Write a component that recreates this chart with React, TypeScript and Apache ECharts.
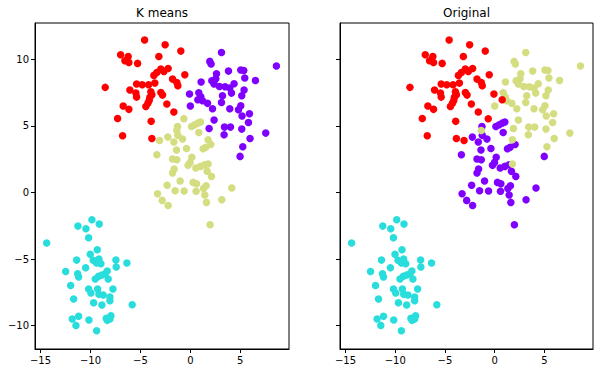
import React, { useEffect, useRef } from "react";
import * as echarts from "echarts";

// K-means cluster assignments
const kmRed: [number, number][] = [
  [-4.58, 11.43], [-2.52, 11.08], [-0.95, 10.6], [-6.98, 10.33], [-6.22, 10.2],
  [-6.55, 9.88], [-6.15, 9.75], [-5.28, 9.68], [-3.15, 10.2], [-2.95, 9.25],
  [-3.35, 9.0], [-3.65, 8.78], [-2.22, 9.3], [-2.65, 9.08], [-0.55, 8.83],
  [-1.78, 8.5], [-1.35, 8.25], [-1.25, 8.0], [-8.52, 7.88], [-5.38, 8.13],
  [-4.82, 8.08], [-4.18, 8.08], [-3.55, 8.2], [-6.05, 7.68], [-5.45, 7.45],
  [-5.38, 7.15], [-3.95, 7.55], [-3.85, 7.33], [-4.05, 7.13], [-4.12, 6.9],
  [-4.25, 6.68], [-4.45, 6.45], [-2.95, 7.5], [-2.78, 7.3], [-2.35, 6.63],
  [-6.72, 6.48], [-6.15, 6.23], [-1.65, 6.03], [-7.28, 5.55], [-3.92, 5.33],
  [-6.78, 4.25], [-3.85, 4.05],
];
const kmPurple: [number, number][] = [
  [3.12, 10.5], [8.62, 9.48], [1.95, 9.83], [2.08, 9.63], [5.05, 9.18],
  [5.35, 9.15], [1.08, 8.28], [2.15, 8.38], [2.62, 8.9], [2.55, 8.53],
  [3.82, 9.1], [5.45, 8.58], [6.52, 8.4], [2.38, 8.13], [2.92, 7.95],
  [3.48, 7.93], [3.95, 7.83], [4.38, 8.15], [4.12, 7.45], [5.38, 7.68],
  [5.15, 7.25], [3.22, 7.25], [-0.08, 7.38], [0.85, 7.48], [1.05, 7.18],
  [1.22, 6.88], [0.75, 6.95], [1.72, 6.68], [3.12, 6.75], [0.0, 6.48],
  [2.22, 6.28], [3.95, 6.28], [5.05, 6.5], [4.82, 6.2], [5.92, 5.9],
  [5.18, 5.73], [2.38, 5.43], [5.82, 5.25], [1.88, 4.8], [3.42, 4.9],
  [4.02, 4.9], [3.38, 4.33], [5.15, 4.75], [7.55, 4.45], [5.98, 4.05],
  [5.25, 3.43], [4.98, 2.7],
];
const kmYellow: [number, number][] = [
  [-0.65, 5.53], [-1.28, 4.95], [-1.35, 4.65], [0.12, 4.95], [0.45, 5.08],
  [0.78, 5.2], [1.02, 5.28], [0.85, 4.5], [-3.08, 3.9], [-2.25, 4.15],
  [-1.65, 3.78], [-1.25, 4.28], [-0.78, 4.0], [1.78, 3.95], [2.05, 3.6],
  [-3.35, 2.83], [-1.38, 3.18], [-0.38, 3.3], [1.28, 3.28], [1.55, 3.38],
  [-1.78, 2.5], [-1.35, 2.45], [0.15, 2.63], [-0.02, 2.25], [-0.22, 2.03],
  [-1.62, 1.75], [-1.78, 1.45], [0.55, 1.83], [1.02, 1.95], [1.45, 2.08],
  [1.78, 2.13], [1.68, 1.58], [2.12, 1.2], [-2.32, 0.53], [-1.02, 0.85],
  [-1.52, 0.13], [-0.62, 0.1], [0.28, 0.75], [0.62, 0.65], [1.32, 0.3],
  [1.58, 0.5], [0.58, 0.08], [1.45, -0.2], [1.62, -0.75], [-3.28, -0.1],
  [-2.82, -0.6], [-2.22, -0.98], [3.15, -0.55], [1.98, -2.43], [4.15, 0.33],
];
const kmCyan: [number, number][] = [
  [-9.85, -2.05], [-9.12, -2.38], [-11.25, -2.53], [-10.45, -2.73], [-10.18, -3.4],
  [-14.38, -3.8], [-9.32, -4.3], [-10.02, -4.65], [-7.45, -5.08], [-11.38, -5.08],
  [-9.72, -5.1], [-9.15, -5.0], [-9.38, -5.3], [-8.95, -5.35], [-6.35, -5.3],
  [-7.42, -5.6], [-10.48, -5.65], [-12.48, -5.93], [-11.28, -6.1], [-11.18, -6.35],
  [-8.32, -5.9], [-8.52, -6.1], [-8.85, -6.2], [-9.18, -6.3], [-9.52, -6.5],
  [-8.22, -6.5], [-11.98, -6.98], [-10.18, -7.25], [-9.28, -7.25], [-9.95, -7.55],
  [-9.15, -7.65], [-8.72, -7.7], [-7.75, -7.25], [-8.05, -7.85], [-8.05, -8.13],
  [-11.68, -8.0], [-9.68, -8.28], [-8.85, -8.45], [-5.82, -8.43], [-11.82, -9.5],
  [-11.18, -9.3], [-10.15, -9.58], [-11.45, -9.98], [-8.42, -9.45], [-8.05, -9.5],
  [-7.95, -9.25], [-8.32, -9.6], [-9.38, -10.38],
];

// Points whose original label differs from the simple purple/yellow swap
const origMovedToRed: [number, number][] = [[-0.08, 7.38], [0.75, 6.95], [-3.08, 3.9], [-0.65, 5.53]];
const origStayPurple: [number, number][] = [[4.98, 2.7]];
const origStayYellow: [number, number][] = [[1.78, 3.95], [1.78, 2.13], [-1.35, 4.65]];

const xTicks = [-15, -10, -5, 0, 5];
const yTicks = [-10, -5, 0, 5, 10];
const titles = ["K means", "Original"];

const C_PURPLE = "#8000ff";
const C_CYAN = "#2adddd";
const C_YELLOW = "#d4dd80";
const C_RED = "#ff0000";

const key = (p: [number, number]) => p[0] + "," + p[1];
const setOf = (arr: [number, number][]) => new Set(arr.map(key));

export default function App() {
  const ref = useRef<HTMLDivElement>(null);
  useEffect(() => {
    if (!ref.current) return;
    const chart = echarts.init(ref.current, undefined, { renderer: "svg" });

    const moved = setOf(origMovedToRed);
    const stayP = setOf(origStayPurple);
    const stayY = setOf(origStayYellow);
    const origRed = [...kmRed, ...origMovedToRed];
    const origYellow = [
      ...kmPurple.filter((p) => !moved.has(key(p)) && !stayP.has(key(p))),
      ...origStayYellow,
    ];
    const origPurple = [
      ...kmYellow.filter((p) => !moved.has(key(p)) && !stayY.has(key(p))),
      ...origStayPurple,
    ];

    const fmt = (v: number) => String(v).replace("-", "\u2212");
    const font = "DejaVu Sans";
    const mkX = (gi: number) => ({
      gridIndex: gi,
      type: "value",
      min: -15.55,
      max: 9.88,
      splitLine: { show: false },
      axisLine: { show: true, onZero: false, lineStyle: { color: "#000", width: 1 } },
      axisTick: { show: true, length: 4, customValues: xTicks, lineStyle: { color: "#000" } },
      axisLabel: { customValues: xTicks, formatter: fmt, color: "#000", fontSize: 10, fontFamily: font, margin: 6 },
    });
    const mkY = (gi: number, showLabels: boolean) => ({
      gridIndex: gi,
      type: "value",
      min: -11.75,
      max: 12.71,
      splitLine: { show: false },
      axisLine: { show: true, onZero: false, lineStyle: { color: "#000", width: 1 } },
      axisTick: { show: true, length: 4, customValues: yTicks, lineStyle: { color: "#000" } },
      axisLabel: { show: showLabels, customValues: yTicks, formatter: fmt, color: "#000", fontSize: 10, fontFamily: font, margin: 6 },
    });
    const sc = (gi: number, data: [number, number][], color: string) => ({
      type: "scatter",
      xAxisIndex: gi,
      yAxisIndex: gi,
      data,
      symbolSize: 7.5,
      itemStyle: { color, opacity: 1 },
    });

    chart.setOption({
      animation: false,
      backgroundColor: "#fff",
      grid: [
        { left: 35, top: 23, width: 254, height: 326, show: true, borderColor: "#000", borderWidth: 1 },
        { left: 340, top: 23, width: 253, height: 326, show: true, borderColor: "#000", borderWidth: 1 },
      ],
      xAxis: [mkX(0), mkX(1)],
      yAxis: [mkY(0, true), mkY(1, false)],
      graphic: [
        { type: "text", x: 162, y: 13, style: { text: titles[0], textAlign: "center", textVerticalAlign: "middle", font: "12px DejaVu Sans", fill: "#000" } },
        { type: "text", x: 466.5, y: 13, style: { text: titles[1], textAlign: "center", textVerticalAlign: "middle", font: "12px DejaVu Sans", fill: "#000" } },
      ],
      series: [
        sc(0, kmPurple, C_PURPLE),
        sc(0, kmCyan, C_CYAN),
        sc(0, kmYellow, C_YELLOW),
        sc(0, kmRed, C_RED),
        sc(1, origPurple, C_PURPLE),
        sc(1, kmCyan, C_CYAN),
        sc(1, origYellow, C_YELLOW),
        sc(1, origRed, C_RED),
      ],
    });
    return () => chart.dispose();
  }, []);
  return <div ref={ref} style={{ position: "absolute", left: 0, top: 0, width: 603, height: 373 }} />;
}
